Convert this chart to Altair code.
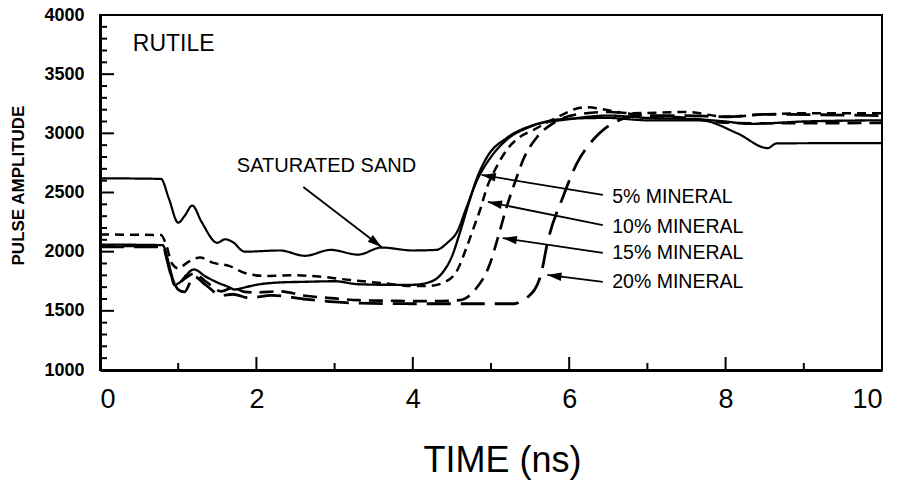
import math
import altair as alt
import pandas as pd

# ---------------- data ----------------
sand_t = [0, 0.78, 0.88, 1.0, 1.08, 1.18, 1.3, 1.5, 1.6, 1.7, 1.85, 2.3, 2.62, 2.95, 3.3, 3.6, 4.0, 4.3,
          4.45, 4.56, 4.69, 4.82, 5.0, 5.2, 5.5, 5.9, 6.5, 7.0, 7.67, 8.15, 8.54, 8.65, 10]
sand_a = [2620, 2615, 2450, 2245, 2300, 2390, 2250, 2075, 2105, 2080, 2000, 2010, 1965, 2015, 1975, 2035, 2010, 2015,
          2080, 2160, 2380, 2600, 2800, 2945, 3055, 3120, 3130, 3110, 3110, 3000, 2875, 2915, 2918]

m5_t = [0, 0.8, 0.88, 0.95, 1.02, 1.1, 1.2, 1.35, 1.5, 1.65, 1.72, 1.8, 2.0, 2.3, 2.6, 3.0, 3.3, 3.7, 4.0, 4.2,
        4.35, 4.5, 4.62, 4.72, 4.82, 4.95, 5.2, 5.5, 6.0, 6.5, 7.0, 7.6, 8.0, 8.3, 9.0, 10]
m5_a = [2060, 2055, 1900, 1720, 1740, 1800, 1850, 1790, 1740, 1700, 1680, 1690, 1720, 1740, 1745, 1750, 1725, 1720, 1720, 1740,
        1800, 1960, 2200, 2420, 2620, 2800, 2960, 3060, 3120, 3150, 3130, 3120, 3100, 3080, 3100, 3110]

m10_t = [0, 0.78, 0.85, 0.92, 1.0, 1.12, 1.28, 1.45, 1.65, 1.85, 2.1, 2.5, 2.8, 3.2, 3.6, 4.0, 4.2, 4.4, 4.57, 4.69,
         4.8, 4.86, 4.95, 5.05, 5.2, 5.37, 5.54, 5.8, 6.2, 6.8, 7.5, 8.0, 8.5, 9.0, 10]
m10_a = [2145, 2140, 2050, 1900, 1860, 1910, 1950, 1905, 1880, 1820, 1795, 1800, 1790, 1760, 1735, 1710, 1710, 1740, 1845, 2040,
         2242, 2352, 2546, 2690, 2859, 2969, 3028, 3120, 3220, 3170, 3180, 3140, 3160, 3170, 3170]

m15_t = [0, 0.8, 0.88, 0.97, 1.08, 1.2, 1.35, 1.55, 1.7, 1.85, 2.0, 2.3, 2.6, 3.0, 3.3, 3.7, 4.2, 4.6, 4.8, 4.99,
         5.08, 5.2, 5.33, 5.41, 5.59, 5.8, 6.1, 6.5, 7.0, 7.5, 8.0, 8.5, 10]
m15_a = [2050, 2045, 1880, 1720, 1770, 1815, 1750, 1665, 1695, 1660, 1655, 1665, 1630, 1605, 1590, 1585, 1582, 1590, 1680, 1904,
         2099, 2377, 2631, 2775, 2969, 3087, 3160, 3180, 3150, 3130, 3090, 3085, 3088]

m20_t = [0, 0.8, 0.9, 1.0, 1.08, 1.2, 1.35, 1.55, 1.7, 1.9, 2.2, 2.6, 3.0, 3.3, 4.0, 4.6, 5.3, 5.41, 5.47, 5.63,
         5.73, 5.92, 6.1, 6.23, 6.39, 6.6, 6.9, 7.5, 8.0, 8.5, 10]
m20_a = [2040, 2040, 1820, 1680, 1660, 1790, 1720, 1630, 1640, 1610, 1630, 1600, 1575, 1565, 1560, 1560, 1560, 1592, 1617, 1786,
         2099, 2462, 2749, 2884, 3003, 3100, 3150, 3150, 3140, 3160, 3150]

series_names = ["sand", "5%", "10%", "15%", "20%"]
series_t = [sand_t, m5_t, m10_t, m15_t, m20_t]
series_a = [sand_a, m5_a, m10_a, m15_a, m20_a]

# annotations
label_text = ["SATURATED SAND", "5% MINERAL", "10% MINERAL", "15% MINERAL", "20% MINERAL"]
label_size = [20, 19.5, 19.5, 19.5, 19.5]
label_t = [1.75, 6.55, 6.55, 6.55, 6.55]
label_a = [2724, 2462, 2208, 1989, 1744]

arrow_t0 = [2.6, 6.43, 6.43, 6.43, 6.43]
arrow_a0 = [2546, 2479, 2225, 1989, 1744]
arrow_t1 = [3.6, 4.88, 4.96, 5.15, 5.72]
arrow_a1 = [2039, 2648, 2420, 2115, 1803]

x_major = [0, 2, 4, 6, 8, 10]
x_minor = [1, 3, 5, 7, 9]
y_major = [1000, 1500, 2000, 2500, 3000, 3500, 4000]
y_minor = [1100, 1200, 1300, 1400, 1600, 1700, 1800, 1900, 2100, 2200, 2300, 2400,
           2600, 2700, 2800, 2900, 3100, 3200, 3300, 3400, 3600, 3700, 3800, 3900]

# ---------------- build ----------------
W, H = 782, 355
FONT = "Liberation Sans"

rows = []
for name, ts, As in zip(series_names, series_t, series_a):
    for t, a in zip(ts, As):
        rows.append({"series": name, "t": t, "amp": a})
df = pd.DataFrame(rows)

xscale = alt.Scale(domain=[0, 10], nice=False, zero=False)
yscale = alt.Scale(domain=[1000, 4000], nice=False, zero=False)

lines = alt.Chart(df).mark_line(interpolate="monotone", color="black").encode(
    x=alt.X("t:Q", scale=xscale,
            axis=alt.Axis(values=x_major, format="d", title="TIME (ns)", grid=False, ticks=False, tickSize=0,
                          domain=True, domainColor="black", domainWidth=3,
                          labelFont=FONT, labelFontSize=27, labelColor="black", labelPadding=16,
                          titleFont=FONT, titleFontSize=36, titleFontWeight="normal", titleColor="black",
                          titleX=402, titleY=90, titleBaseline="middle", titleAlign="center")),
    y=alt.Y("amp:Q", scale=yscale,
            axis=alt.Axis(values=y_major, format="d", title="PULSE AMPLITUDE", grid=False, ticks=False, tickSize=0,
                          domain=True, domainColor="black", domainWidth=3,
                          labelFont=FONT, labelFontSize=18, labelFontWeight="bold", labelColor="black",
                          labelPadding=16,
                          titleFont=FONT, titleFontSize=17, titleFontWeight="bold", titleColor="black",
                          titleX=-82, titleY=170, titleAngle=270, titleAlign="center", titleBaseline="middle")),
    strokeDash=alt.StrokeDash("series:N", legend=None,
                              scale=alt.Scale(domain=series_names,
                                              range=[[1, 0], [1, 0], [9, 6], [14, 8], [24, 10]])),
    strokeWidth=alt.StrokeWidth("series:N", legend=None,
                                scale=alt.Scale(domain=series_names, range=[2.2, 2.8, 2.2, 2.2, 2.2])),
    detail="series:N",
)

ymaj = alt.Chart(pd.DataFrame({"amp": y_major})).mark_rule(color="black", strokeWidth=2).encode(
    y=alt.Y("amp:Q", scale=yscale), x=alt.value(0), x2=alt.value(14))
ymin = alt.Chart(pd.DataFrame({"amp": y_minor})).mark_rule(color="black", strokeWidth=2).encode(
    y=alt.Y("amp:Q", scale=yscale), x=alt.value(0), x2=alt.value(7))
xmaj = alt.Chart(pd.DataFrame({"t": x_major})).mark_rule(color="black", strokeWidth=2).encode(
    x=alt.X("t:Q", scale=xscale), y=alt.value(H), y2=alt.value(H - 13))
xmin = alt.Chart(pd.DataFrame({"t": x_minor})).mark_rule(color="black", strokeWidth=2).encode(
    x=alt.X("t:Q", scale=xscale), y=alt.value(H), y2=alt.value(H - 7))

arr_df = pd.DataFrame({"t": arrow_t0, "amp": arrow_a0, "t2": arrow_t1, "amp2": arrow_a1})
arrows = alt.Chart(arr_df).mark_rule(color="black", strokeWidth=1.8).encode(
    x=alt.X("t:Q", scale=xscale), y=alt.Y("amp:Q", scale=yscale), x2="t2:Q", y2="amp2:Q")


def head_angle(t0, a0, t1, a1):
    dx = (t1 - t0) / 10 * W
    dy = -(a1 - a0) / 3000 * H
    return math.degrees(math.atan2(dx, -dy)) % 360


head_df = pd.DataFrame({
    "t": arrow_t1, "amp": arrow_a1,
    "ang": [head_angle(*v) for v in zip(arrow_t0, arrow_a0, arrow_t1, arrow_a1)],
})
heads = alt.Chart(head_df).mark_point(shape="M0,0L0.3,1L-0.3,1Z", filled=True, color="black",
                                      opacity=1, size=800, strokeWidth=0).encode(
    x=alt.X("t:Q", scale=xscale), y=alt.Y("amp:Q", scale=yscale),
    angle=alt.Angle("ang:Q", scale=None))

labels = alt.Chart(pd.DataFrame({"t": label_t, "amp": label_a, "txt": label_text, "fs": label_size})).mark_text(
    align="left", baseline="middle", font=FONT, color="black").encode(
    x=alt.X("t:Q", scale=xscale), y=alt.Y("amp:Q", scale=yscale), text="txt:N",
    size=alt.Size("fs:Q", scale=None, legend=None))

rutile = alt.Chart(pd.DataFrame({"t": [0.42], "amp": [3755], "txt": ["RUTILE"]})).mark_text(
    align="left", baseline="middle", font=FONT, fontSize=23, color="black").encode(
    x=alt.X("t:Q", scale=xscale), y=alt.Y("amp:Q", scale=yscale), text="txt:N")

chart = alt.layer(lines, ymaj, ymin, xmaj, xmin, arrows, heads, labels, rutile).properties(
    width=W, height=H,
    autosize=alt.AutoSizeParams(type="none"),
    padding={"left": 100, "top": 15, "right": 22, "bottom": 123},
    background="white",
).configure_view(stroke="black", strokeWidth=2)

chart.save("out.html", embed_options={"renderer": "svg", "actions": False})
